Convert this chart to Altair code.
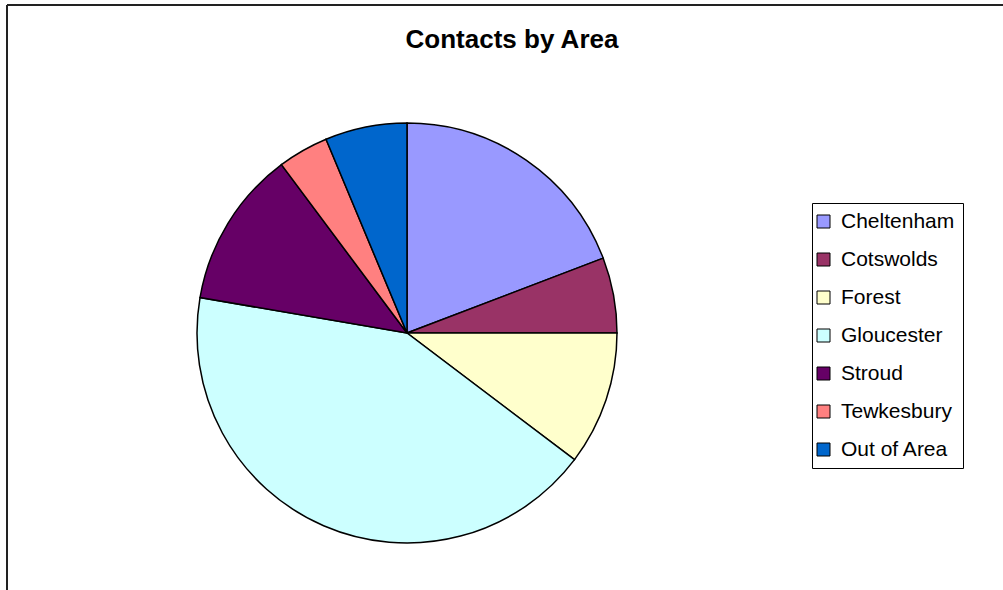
import altair as alt
import pandas as pd

# Data (shares in %)
areas = ["Cheltenham", "Cotswolds", "Forest", "Gloucester", "Stroud", "Tewkesbury", "Out of Area"]
shares = [19.2, 5.8, 10.3, 42.4, 12.1, 3.9, 6.3]
colours = ["#9999FF", "#993366", "#FFFFCC", "#CCFFFF", "#660066", "#FF8080", "#0066CC"]

df = pd.DataFrame({"Area": areas, "Share": shares, "Order": list(range(len(areas)))})

W, H = 996, 585
FONT = "Liberation Sans, Arial, sans-serif"

frame_df = pd.DataFrame({"k": [0]})
frame_left = alt.Chart(frame_df).mark_rule(color="#222222", strokeWidth=2).encode(
    x=alt.value(0), y=alt.value(0), y2=alt.value(H)
)
frame_top = alt.Chart(frame_df).mark_rule(color="#222222", strokeWidth=2).encode(
    x=alt.value(0), x2=alt.value(W), y=alt.value(0)
)

pie = alt.Chart(df).mark_arc(stroke="black", strokeWidth=1.5).encode(
    theta=alt.Theta("Share:Q", stack=True),
    order=alt.Order("Order:Q"),
    color=alt.Color(
        "Area:N",
        sort=areas,
        scale=alt.Scale(domain=areas, range=colours),
        legend=alt.Legend(
            title=None,
            orient="none",
            legendX=805,
            legendY=198,
            strokeColor="black",
            padding=8,
            symbolType="square",
            symbolSize=169,
            symbolStrokeColor="black",
            symbolStrokeWidth=1,
            symbolOpacity=1,
            symbolOffset=-7,
            labelFont=FONT,
            labelFontSize=21,
            labelColor="black",
            labelOffset=7,
            rowPadding=16,
            labelLimit=300,
        ),
    ),
    x=alt.value(400),
    y=alt.value(328),
    radius=alt.value(210),
    tooltip=["Area:N", "Share:Q"],
)

chart = (
    alt.layer(frame_left, frame_top, pie)
    .properties(
        width=W,
        height=H,
        title=alt.Title(
            "Contacts by Area",
            font=FONT,
            fontSize=26,
            fontWeight="bold",
            color="black",
            anchor="middle",
            frame="group",
            offset=-49,
            dx=7,
        ),
        autosize=alt.AutoSizeParams(type="none"),
        padding={"left": 7, "top": 5, "right": 0, "bottom": 0},
        background="white",
    )
    .configure(font=FONT)
    .configure_view(strokeOpacity=0)
)

chart.save("out.html", embed_options={"renderer": "svg", "actions": False})
